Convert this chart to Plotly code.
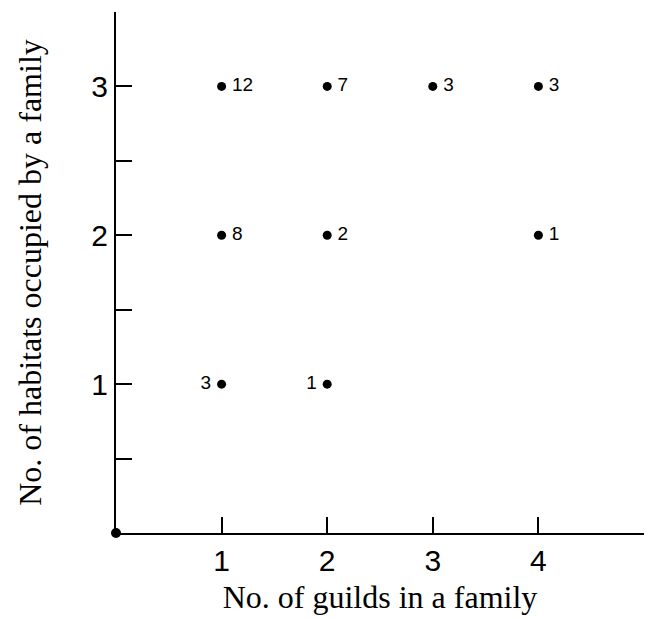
import plotly.graph_objects as go

# number of guilds per family (x), number of habitats occupied (y), count of families
guilds = [1, 2, 3, 4, 1, 2, 4, 1, 2]
habitats = [3, 3, 3, 3, 2, 2, 2, 1, 1]
counts = [12, 7, 3, 3, 8, 2, 1, 3, 1]
label_side = ["middle right"] * 7 + ["middle left"] * 2

x_ticks = [1, 2, 3, 4]
y_ticks = [1, 2, 3]

SANS = "Liberation Sans, Arimo, Roboto, sans-serif"
SERIF = "Liberation Serif, Times New Roman, serif"

# pad each count label slightly away from its dot
labels = [
    ("\u2009" + str(c)) if side.endswith("right") else (str(c) + "\u2009")
    for c, side in zip(counts, label_side)
]

fig = go.Figure()

fig.add_trace(go.Scatter(
    x=guilds, y=habitats, mode="markers+text",
    text=labels, textposition=label_side,
    textfont=dict(family=SANS, size=19, color="black"),
    marker=dict(size=9, color="black"),
    cliponaxis=False, showlegend=False,
))

# dot at the axis origin
fig.add_trace(go.Scatter(
    x=[0], y=[0], mode="markers", marker=dict(size=10, color="black"),
    cliponaxis=False, showlegend=False,
))

axis_common = dict(
    showline=True, linecolor="black", linewidth=2,
    showgrid=False, zeroline=False,
    ticks="inside", ticklen=16, tickwidth=1.5, tickcolor="black",
    tickfont=dict(family=SANS, size=30, color="black"),
    title_font=dict(family=SERIF, size=32, color="black"),
)

fig.update_xaxes(
    range=[0, 5], tickmode="array", tickvals=x_ticks,
    title_text="No. of guilds in a family", title_standoff=10,
    **axis_common,
)
fig.update_yaxes(
    range=[0, 3.5], tickmode="array", tickvals=y_ticks,
    minor=dict(tickmode="array", tickvals=[0.5, 1.5, 2.5, 3.5],
               ticks="inside", ticklen=16, tickwidth=1.5, tickcolor="black"),
    title_text="No. of habitats occupied by a family", title_standoff=40,
    **axis_common,
)

fig.update_layout(
    width=655, height=619,
    margin=dict(l=116, r=11, t=12, b=86),
    plot_bgcolor="white", paper_bgcolor="white",
    font=dict(family=SANS, color="black"),
)

fig.write_html("out.html")
